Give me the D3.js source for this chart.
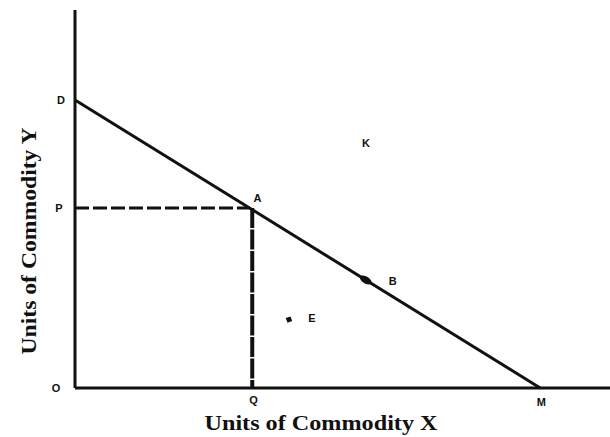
<!DOCTYPE html>
<html>
<head>
<meta charset="utf-8">
<script src="https://cdn.jsdelivr.net/npm/d3@7"></script>
<style>
  html, body { margin: 0; padding: 0; background: #fff; }
  svg { display: block; }
</style>
</head>
<body>
<svg id="chart" width="610" height="437"></svg>
<script>
// Budget line between the two axis intercepts (units of X, units of Y)
const budgetX = [0, 10];
const budgetY = [8, 0];

// Named bundles: chosen point A, point B on the line, E inside, K outside
const bundleNames = ["A", "B", "E", "K"];
const bundleX = [3.75, 6.25, 4.6, 6.3];
const bundleY = [5, 3, 1.9, 6.8];

const xTitle = "Units of Commodity X";
const yTitle = "Units of Commodity Y";

const svg = d3.select("#chart");

const x = d3.scaleLinear().domain([0, 11.5]).range([75, 610]);
const y = d3.scaleLinear().domain([0, 10.5]).range([388, 10]);

const ink = "#111";
const g = svg.append("g");

// axes
g.append("line")
  .attr("x1", x(0)).attr("y1", y(0))
  .attr("x2", x(0)).attr("y2", y(y.domain()[1]))
  .attr("stroke", ink).attr("stroke-width", 3);
g.append("line")
  .attr("x1", x(0)).attr("y1", y(0))
  .attr("x2", x(x.domain()[1])).attr("y2", y(0))
  .attr("stroke", ink).attr("stroke-width", 3);

// budget line DM
const line = d3.line().x(d => x(d[0])).y(d => y(d[1]));
g.append("path")
  .datum(d3.zip(budgetX, budgetY))
  .attr("d", line)
  .attr("fill", "none")
  .attr("stroke", ink)
  .attr("stroke-width", 3);

// dashed guides from A to the axes
const ax = bundleX[0], ay = bundleY[0];
g.append("path")
  .datum([[0, ay], [ax, ay]])
  .attr("d", line)
  .attr("fill", "none").attr("stroke", ink)
  .attr("stroke-width", 3.2)
  .attr("stroke-dasharray", "14,4");
g.append("path")
  .datum([[ax + 0.06, ay], [ax + 0.06, 0]])
  .attr("d", line)
  .attr("fill", "none").attr("stroke", ink)
  .attr("stroke-width", 4)
  .attr("stroke-dasharray", "20,1.5");

// marker for B (on the line) and E (inside)
g.append("ellipse")
  .attr("cx", x(bundleX[1])).attr("cy", y(bundleY[1]))
  .attr("rx", 6.5).attr("ry", 3.5)
  .attr("transform", `rotate(32, ${x(bundleX[1])}, ${y(bundleY[1])})`)
  .attr("fill", ink);
g.append("rect")
  .attr("x", x(bundleX[2]) - 2.5).attr("y", y(bundleY[2]) - 2.5)
  .attr("width", 5).attr("height", 5)
  .attr("transform", `rotate(-20, ${x(bundleX[2])}, ${y(bundleY[2])})`)
  .attr("fill", ink);

// point letters
const letter = (txt, px, py) => g.append("text")
  .attr("x", px).attr("y", py)
  .attr("text-anchor", "middle")
  .attr("dominant-baseline", "central")
  .attr("font-family", "Liberation Sans, Arial, sans-serif")
  .attr("font-weight", "bold")
  .attr("font-size", 11)
  .attr("fill", ink)
  .text(txt);

letter("D", x(0) - 14, y(budgetY[0]));
letter("P", x(0) - 16, y(ay));
letter("O", x(0) - 19, y(0));
letter("Q", x(ax) + 4, y(0) + 12);
letter("M", x(budgetX[1]) + 1, y(0) + 14);
letter("A", x(ax) + 8, y(ay) - 10);
letter("B", x(bundleX[1]) + 27, y(bundleY[1]) + 1);
letter("E", x(bundleX[2]) + 23, y(bundleY[2]) - 2);
letter("K", x(bundleX[3]) - 2, y(bundleY[3]));

// axis titles
g.append("text")
  .attr("x", 321).attr("y", 430)
  .attr("text-anchor", "middle")
  .attr("font-family", "Liberation Serif, Times New Roman, serif")
  .attr("font-weight", "bold")
  .attr("font-size", 22)
  .attr("textLength", 233)
  .attr("lengthAdjust", "spacingAndGlyphs")
  .attr("fill", ink)
  .text(xTitle);

g.append("text")
  .attr("transform", "translate(36,241) rotate(-90)")
  .attr("text-anchor", "middle")
  .attr("font-family", "Liberation Serif, Times New Roman, serif")
  .attr("font-weight", "bold")
  .attr("font-size", 22)
  .attr("textLength", 227)
  .attr("lengthAdjust", "spacingAndGlyphs")
  .attr("fill", ink)
  .text(yTitle);
</script>
</body>
</html>
